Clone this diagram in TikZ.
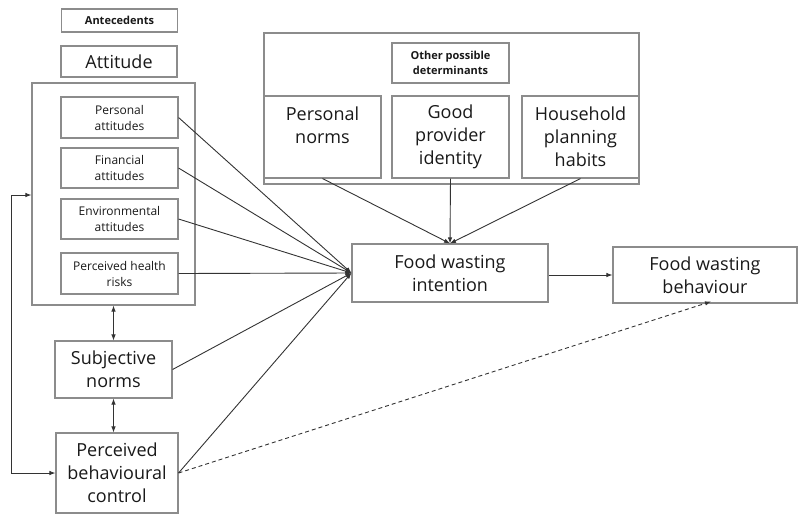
\documentclass[tikz,border=0pt]{standalone}
\usepackage{fontspec}
\setmainfont{Open Sans}
\usepackage{tikz}
\usetikzlibrary{shapes,positioning,calc}
\usetikzlibrary{arrows.meta}
\colorlet{boxgray}{black!45}
\colorlet{linegray}{black!80}
\tikzstyle{arrow} = [line width=0.9pt,draw=linegray,-{Latex[length=6pt,width=4.5pt]}]
\newcommand{\bigtext}{\fontsize{18}{23}\selectfont}
\newcommand{\smalltext}{\fontsize{12}{16}\selectfont}
\newcommand{\tagtext}{\fontsize{11}{15}\selectfont\bfseries}

\begin{document}
\begin{tikzpicture}[x=1pt,y=-1pt,
  block/.style={rectangle, draw=boxgray, line width=1.1pt, align=center, inner sep=0pt, text=black!90, minimum width=#1},
  block/.default=117pt]

	\useasboundingbox (0,0) rectangle (798,515);

	% ANTECEDENTS

	\node [block=116pt, minimum height=23pt, font=\tagtext] (antecedents) at (119.5,20.5) {Antecedents};
	\node [block=116pt, minimum height=31pt, font=\bigtext] (attitude) at (119,61.5) {Attitude};

	\node [block=163pt, minimum height=222pt] (attbox) at (113.5,194) {};
	\node [block, minimum height=41pt, font=\smalltext] (persatt) at (119.5,117.5) {Personal\\attitudes};
	\node [block, minimum height=40pt, font=\smalltext] (finatt) at (119.5,168) {Financial\\attitudes};
	\node [block, minimum height=40pt, font=\smalltext] (envatt) at (119.5,219) {Environmental\\attitudes};
	\node [block, minimum height=41pt, font=\smalltext] (health) at (119.5,273.5) {Perceived health\\risks};

	\node [block, minimum height=57pt, font=\bigtext] (subjnorms) at (113.5,369.5) {Subjective\\norms};
	\node [block=122pt, minimum height=80pt, font=\bigtext] (pbc) at (117,473) {Perceived\\behavioural\\control};

	% OTHER DETERMINANTS

	\node [block=375pt, minimum height=151pt] (determbox) at (451.5,108.5) {};
	\node [block, minimum height=40pt, font=\tagtext] (other) at (450.5,63) {Other possible\\determinants};
	\node [block, minimum height=82pt, font=\bigtext] (persnorms) at (322.5,137) {Personal\\norms\\\phantom{x}};
	\node [block, minimum height=82pt, font=\bigtext] (provider) at (450.5,137) {Good\\provider\\identity};
	\node [block, minimum height=82pt, font=\bigtext] (household) at (580.5,137) {Household\\planning\\habits};

	% OUTCOMES

	\node [block=196pt, minimum height=58pt, font=\bigtext] (intention) at (450,273) {Food wasting\\intention};
	\node [block=184pt, minimum height=56pt, font=\bigtext] (behaviour) at (705,275) {Food wasting\\behaviour};

	% CONNECTORS

	\foreach \src in {persatt,finatt,envatt,health,subjnorms,pbc}
		\draw [arrow] (\src.east) -- (intention.west);

	\foreach \src in {persnorms,provider,household}
		\draw [arrow] (\src.south) -- (intention.north);

	\draw [arrow] (intention.east |- behaviour.west) -- (behaviour.west);
	\draw [arrow, dashed, dash pattern=on 4pt off 3pt] (pbc.east) -- ([xshift=6pt,yshift=2pt]behaviour.south);

	\draw [arrow, {Latex[length=6pt,width=4.5pt]}-{Latex[length=6pt,width=4.5pt]}] (attbox.south) -- (subjnorms.north);
	\draw [arrow, {Latex[length=6pt,width=4.5pt]}-{Latex[length=6pt,width=4.5pt]}] (subjnorms.south) -- (subjnorms.south |- pbc.north);
	\draw [arrow, {Latex[length=6pt,width=4.5pt]}-{Latex[length=6pt,width=4.5pt]}] ([yshift=-1pt]attbox.west) -- ++(-20,0) |- (pbc.west);

\end{tikzpicture}
\end{document}
